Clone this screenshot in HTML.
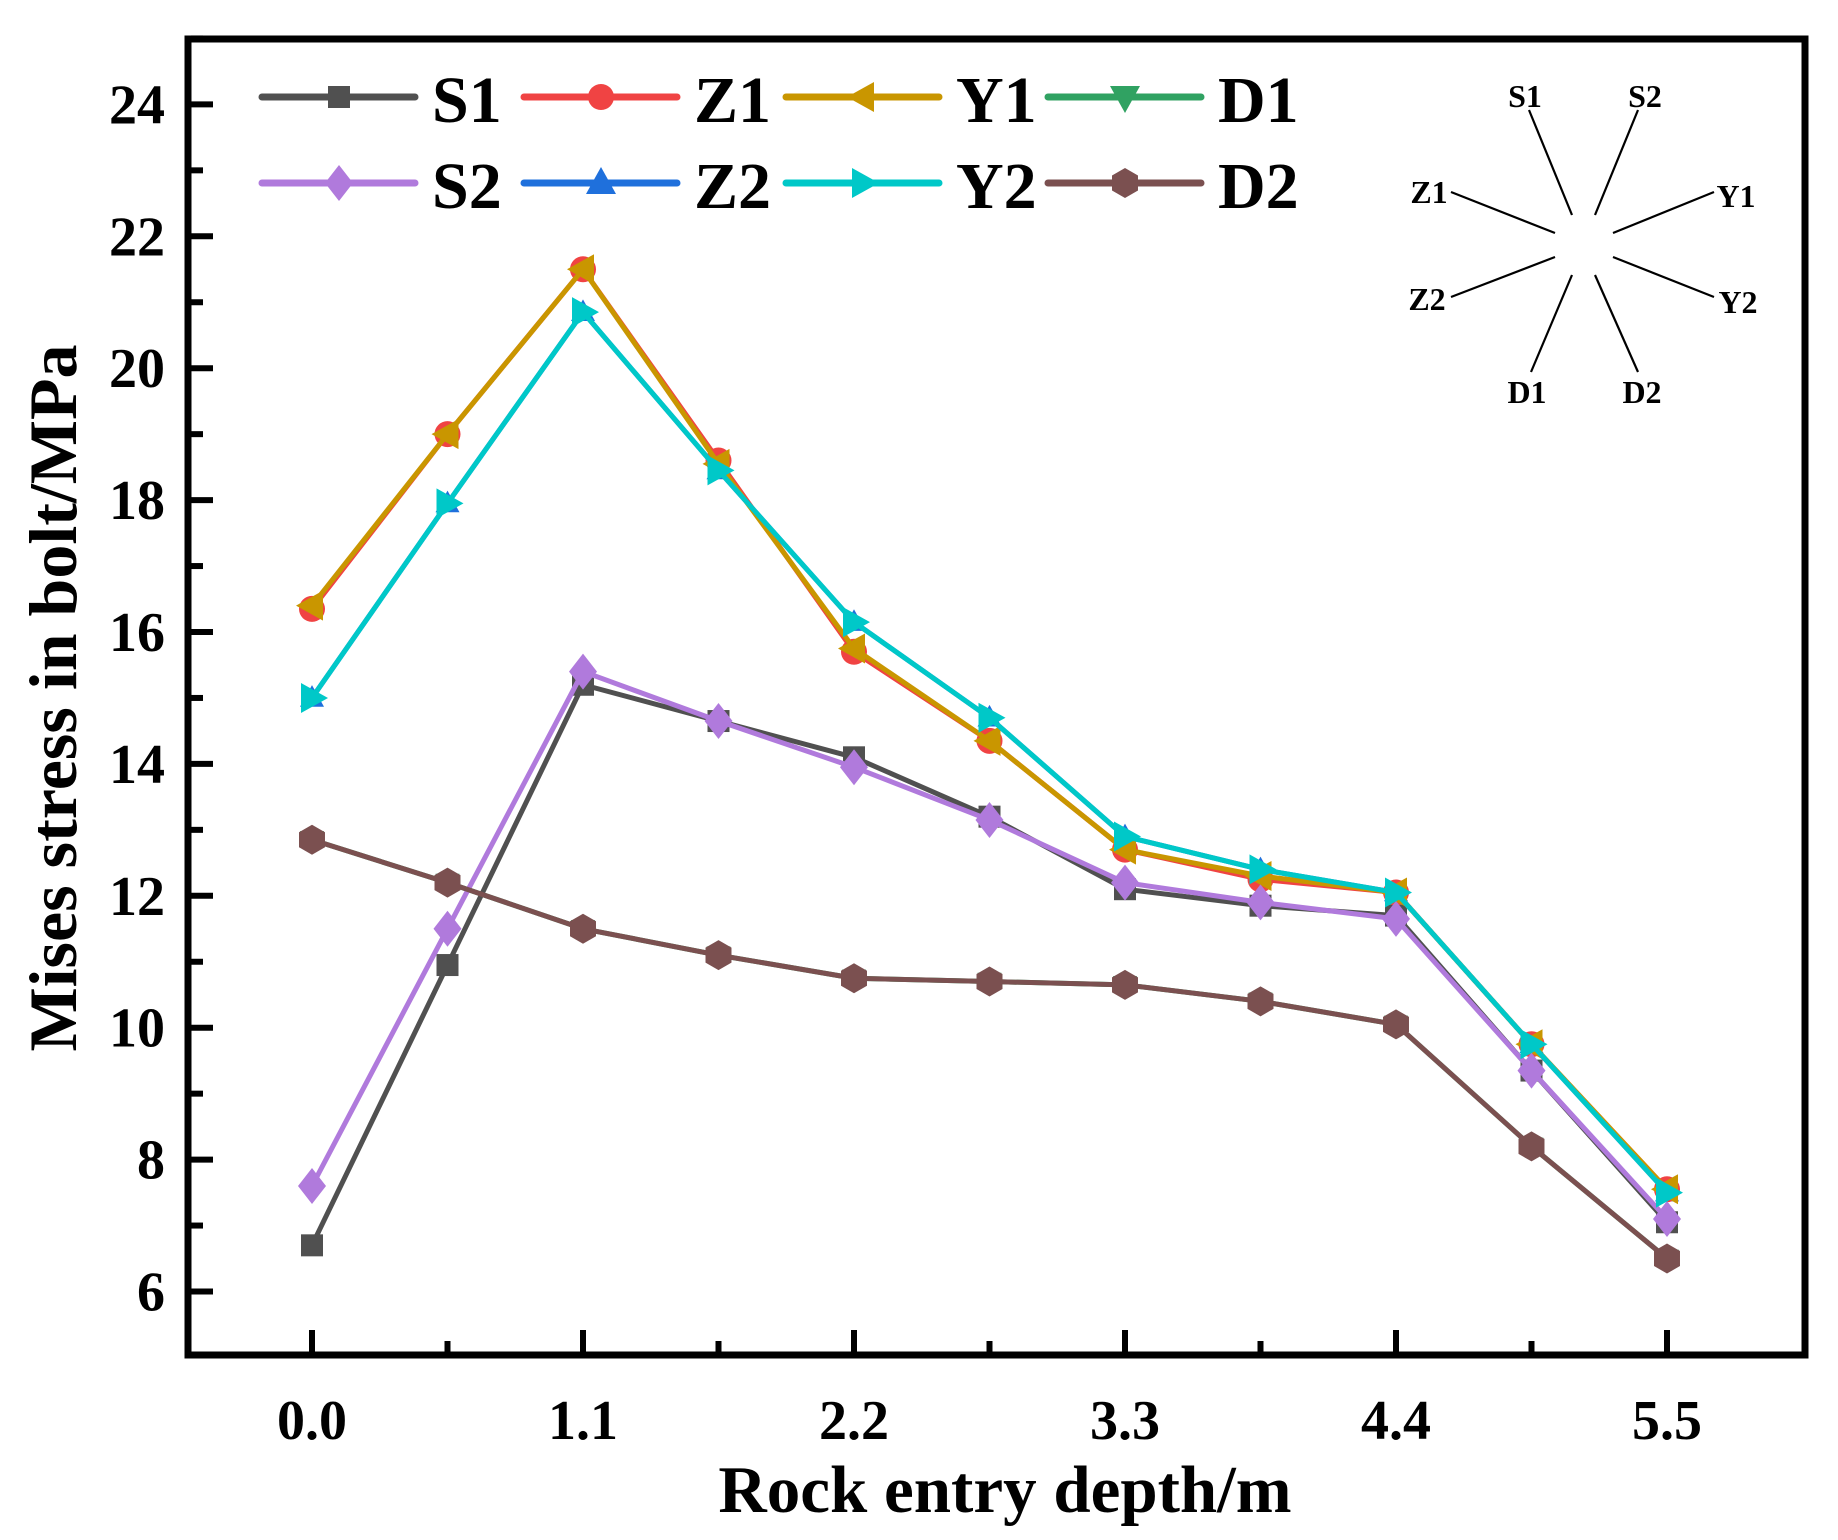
<!DOCTYPE html>
<html><head><meta charset="utf-8"><style>
html,body{margin:0;padding:0;background:#fff;}
svg{display:block;font-family:"Liberation Serif","Times New Roman",serif;font-weight:bold;}
</style></head><body>
<svg id="chart" width="1838" height="1540" viewBox="0 0 1838 1540" xmlns="http://www.w3.org/2000/svg"></svg>
<script>
const xValues = [0, 0.55, 1.1, 1.65, 2.2, 2.75, 3.3, 3.85, 4.4, 4.95, 5.5];
const xTickLabels = ["0.0", "1.1", "2.2", "3.3", "4.4", "5.5"];
const yTickLabels = ["6", "8", "10", "12", "14", "16", "18", "20", "22", "24"];
const seriesNames = ["S1", "Z1", "Y1", "D1", "S2", "Z2", "Y2", "D2"];
const s1 = [6.7, 10.95, 15.2, 14.65, 14.1, 13.2, 12.1, 11.85, 11.7, 9.35, 7.05];
const z1 = [16.35, 19.0, 21.5, 18.6, 15.7, 14.35, 12.7, 12.25, 12.05, 9.75, 7.55];
const y1 = [16.4, 19.0, 21.5, 18.55, 15.75, 14.35, 12.7, 12.3, 12.05, 9.75, 7.55];
const d1 = [12.85, 12.2, 11.5, 11.1, 10.75, 10.7, 10.65, 10.4, 10.05, 8.2, 6.5];
const s2 = [7.6, 11.5, 15.4, 14.65, 13.95, 13.15, 12.2, 11.9, 11.65, 9.35, 7.1];
const z2 = [15.0, 17.95, 20.85, 18.45, 16.15, 14.7, 12.9, 12.4, 12.05, 9.75, 7.5];
const y2 = [15.0, 17.95, 20.85, 18.45, 16.15, 14.7, 12.9, 12.4, 12.05, 9.75, 7.5];
const d2 = [12.85, 12.2, 11.5, 11.1, 10.75, 10.7, 10.65, 10.4, 10.05, 8.2, 6.5];

const NS = "http://www.w3.org/2000/svg";
const svg = document.getElementById("chart");
function X(v){ return 312 + v * (1355 / 5.5); }
function Y(v){ return 104.4 + (24 - v) * 65.95; }
function mk(tag, attrs, parent){
  const e = document.createElementNS(NS, tag);
  for (const k in attrs) e.setAttribute(k, attrs[k]);
  (parent || svg).appendChild(e);
  return e;
}
const colors = ["#505050","#f04343","#c99600","#30a262","#b07adc","#1f70dc","#00c8c8","#7b5050"];
const markers = ["square","circle","left","down","diamond","up","right","hexagon"];
const data = [s1, z1, y1, d1, s2, z2, y2, d2];

function marker(type, cx, cy, color, parent, scale){
  const s = scale || 1;
  let e;
  if (type === "square") e = mk("rect", {x:cx-11*s, y:cy-11*s, width:22*s, height:22*s, fill:color}, parent);
  else if (type === "circle") e = mk("circle", {cx:cx, cy:cy, r:13*s, fill:color}, parent);
  else {
    let pts;
    if (type === "left") pts = [[cx-16,cy],[cx+11,cy-15],[cx+11,cy+15]];
    else if (type === "right") pts = [[cx+16,cy],[cx-11,cy-15],[cx-11,cy+15]];
    else if (type === "up") pts = [[cx,cy-16],[cx-15,cy+11],[cx+15,cy+11]];
    else if (type === "down") pts = [[cx,cy+16],[cx-15,cy-11],[cx+15,cy-11]];
    else if (type === "diamond") pts = [[cx,cy-18],[cx+14,cy],[cx,cy+18],[cx-14,cy]];
    else { pts = []; for (let i=0;i<6;i++){ const a=Math.PI/6+i*Math.PI/3; pts.push([cx+15*Math.cos(a), cy+15*Math.sin(a)]); } }
    pts = pts.map(p => [cx + (p[0]-cx)*s, cy + (p[1]-cy)*s]);
    e = mk("polygon", {points: pts.map(p=>p.join(",")).join(" "), fill:color}, parent);
  }
  
  
  return e;
}

// series (Z2 and D1 drawn first: hidden underneath in the reference)
const drawOrder = [5, 3, 0, 1, 2, 4, 6, 7];
drawOrder.forEach((si) => {
  const vals = data[si];
  const g = mk("g", {});
  
  
  const line = mk("polyline", {points: vals.map((v,i)=>X(xValues[i])+","+Y(v)).join(" "), fill:"none", stroke:colors[si], "stroke-width":5, "stroke-linejoin":"round"}, g);
  
  
  const sc = (si === 5 || si === 3) ? 0.8 : 1;
  vals.forEach((v,i) => marker(markers[si], X(xValues[i]), Y(v), colors[si], g, sc));
});

// frame
const frame = mk("rect", {x:188, y:39, width:1617, height:1316, fill:"none", stroke:"#000", "stroke-width":7});



// y ticks
yTickLabels.forEach((lab) => {
  const v = parseFloat(lab);
  const t = mk("line", {x1:191, x2:213, y1:Y(v), y2:Y(v), stroke:"#000", "stroke-width":6});
  
  
  const m = mk("line", {x1:191, x2:203, y1:Y(v+1), y2:Y(v+1), stroke:"#000", "stroke-width":6});
  
  
  const tx = mk("text", {x:165, y:Y(v)+19, "text-anchor":"end", "font-size":56});
  tx.textContent = lab;
  
  
});
// x ticks
xTickLabels.forEach((lab) => {
  const v = parseFloat(lab);
  const t = mk("line", {x1:X(v), x2:X(v), y1:1352, y2:1330, stroke:"#000", "stroke-width":6});
  
  
  if (v < 5.5) {
    const m = mk("line", {x1:X(v+0.55), x2:X(v+0.55), y1:1352, y2:1341, stroke:"#000", "stroke-width":6});
    
    
  }
  const tx = mk("text", {x:X(v), y:1439, "text-anchor":"middle", "font-size":56});
  tx.textContent = lab;
  
  
});

// axis titles
const xt = mk("text", {x:1005, y:1512, "text-anchor":"middle", "font-size":67});
xt.textContent = "Rock entry depth/m";


const yt = mk("text", {x:0, y:0, "text-anchor":"middle", "font-size":68, transform:"translate(76,698) rotate(-90)"});
yt.textContent = "Mises stress in bolt/MPa";



// legend
const legendOrder = [0,1,2,3,4,5,6,7];
legendOrder.forEach((si, k) => {
  const col = k % 4, row = Math.floor(k / 4);
  const x0 = 262 + col * 262, yy = row === 0 ? 97 : 183;
  const g = mk("g", {});
  
  
  mk("line", {x1:x0, x2:x0+153, y1:yy, y2:yy, stroke:colors[si], "stroke-width":7, "stroke-linecap":"round"}, g);
  marker(markers[si], x0+77, yy, colors[si], g, 1);
  const tx = mk("text", {x:x0+170, y:yy+25, "font-size":66}, g);
  tx.textContent = seriesNames[si];
  
  
});

// inset diagram
const insetLines = [
  [1529,110,1572,215],[1638,110,1595,215],[1451,192,1555,233],[1714,192,1613,233],
  [1451,297,1555,257],[1714,297,1613,257],[1531,372,1572,275],[1638,372,1595,275]
];
const insetLabels = [["S1",1525,107],["S2",1645,107],["Z1",1429,203],["Y1",1736,207],["Z2",1427,310],["Y2",1738,313],["D1",1527,403],["D2",1642,403]];
const ig = mk("g", {});


insetLines.forEach(l => {
  const e = mk("line", {x1:l[0], y1:l[1], x2:l[2], y2:l[3], stroke:"#000", "stroke-width":2.2}, ig);
  
  
});
insetLabels.forEach(l => {
  const e = mk("text", {x:l[1], y:l[2], "text-anchor":"middle", "font-size":32}, ig);
  e.textContent = l[0];
  
  
});
</script>
</body></html>
